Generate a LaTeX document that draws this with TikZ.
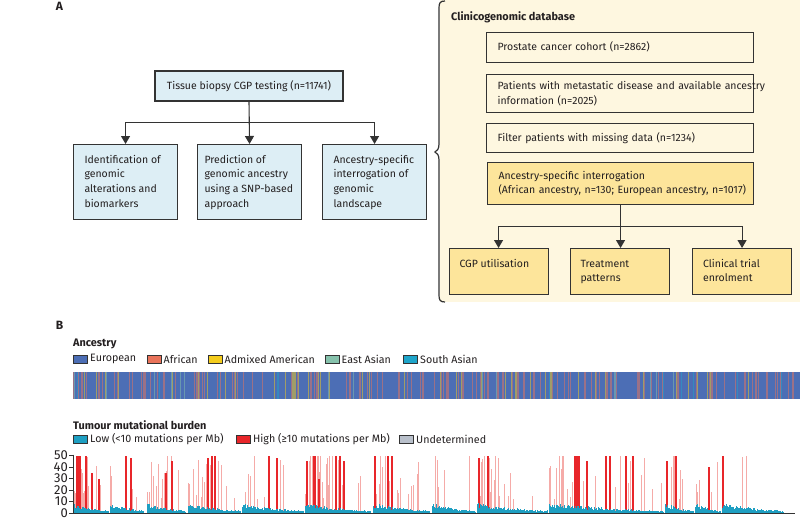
\documentclass[tikz,border=0pt]{standalone}
\usepackage{fontspec}
\setmainfont{Fira Sans}
\usetikzlibrary{arrows.meta,calc}
\definecolor{bluebox}{HTML}{DDEEF5}
\definecolor{cream}{HTML}{FEF7E0}
\definecolor{gold}{HTML}{FDE59B}
\definecolor{edge}{HTML}{333333}
\definecolor{ink}{HTML}{231F20}
\definecolor{eur}{HTML}{4C6EB5}
\definecolor{afr}{HTML}{E9735A}
\definecolor{amr}{HTML}{F4CC1C}
\definecolor{eas}{HTML}{86C2AC}
\definecolor{sas}{HTML}{1EA5CA}
\definecolor{tlow}{HTML}{1E9FC2}
\definecolor{thigh}{HTML}{E8262A}
\definecolor{tpink}{HTML}{F5ABA8}
\definecolor{tund}{HTML}{B9C0CB}
\newcommand{\tbx}[3]{\parbox[t][#2][t]{#1}{\raggedright\strut #3}}
\begin{document}
\begin{tikzpicture}[x=1pt,y=-1pt,
  font=\fontsize{10.5}{14.7}\selectfont, text=ink,
  lbox/.style={draw=edge, line width=1.1pt, fill=bluebox, anchor=north west, inner xsep=11pt, inner ysep=8.4pt},
  ybox/.style={draw=edge, line width=1.1pt, fill=gold, anchor=north west, inner xsep=10.5pt, inner ysep=8.4pt},
  rbox/.style={draw=edge, line width=1.1pt, anchor=north west, minimum width=267pt, text width=245pt, inner xsep=11pt, inner ysep=0pt, align=left},
  arr/.style={draw=edge, line width=1.1pt, -{Triangle[width=9pt,length=8pt]}},
  ttl/.style={font=\fontsize{10.9}{13}\selectfont\bfseries, anchor=west, inner sep=0pt},
  panel/.style={font=\fontsize{12}{14}\selectfont\bfseries, inner sep=0pt},
  swatch/.style={draw=edge, line width=0.7pt, minimum width=14pt, minimum height=8pt, inner sep=0pt, anchor=west},
  lgd/.style={font=\fontsize{10.7}{12}\selectfont, anchor=west, inner sep=0pt},
  ylab/.style={font=\fontsize{13}{14}\selectfont, anchor=east, inner sep=0pt}
]
\useasboundingbox (0,0) rectangle (800,530);

% ---------- Panel A ----------
\node[panel] (pa) at (59.5,6) {A};

\node[draw=edge, line width=1.1pt, fill=bluebox, minimum width=188pt, minimum height=30pt, inner sep=0pt] (top) at (249,86) {Tissue biopsy CGP testing (n=11741)};

\node[lbox] (c1) at (73,144) {\tbx{82pt}{58.2pt}{Identification of\\ genomic\\ alterations and\\ biomarkers}};
\node[lbox, inner xsep=7pt] (c2) at (197,144) {\tbx{90pt}{58.2pt}{Prediction of\\ genomic ancestry\\ using a SNP-based\\ approach}};
\node[lbox] (c3) at (322,144) {\tbx{82pt}{58.2pt}{Ancestry-specific\\ interrogation of\\ genomic\\ landscape}};

\coordinate (ja) at ($(top.south)!0.5!(c2.north)$);
\draw[arr] (top.south) -- (c2.north);
\draw[arr] (ja) -| (c1.north);
\draw[arr] (ja) -| (c3.north);

% right panel background and brace
\fill[cream] (440,0) rectangle (800,302);
\draw[edge, line width=1.2pt] (445,1) .. controls (440,1) and (439,3) .. (439,8) -- (439,144)
  .. controls (439,149) and (437,151) .. (435,152) .. controls (437,153) and (439,155) .. (439,160)
  -- (439,295) .. controls (439,300) and (440,302) .. (445,302);

\node[ttl] (cdb) at (451,17.5) {Clinicogenomic database};

\node[rbox, minimum height=29.5pt] (d1) at (486,32) {Prostate cancer cohort (n=2862)};
\node[rbox, minimum height=38pt] (d2) at (486,74) {\mbox{Patients with metastatic disease and available ancestry}\\ information (n=2025)};
\node[rbox, minimum height=29.3pt] (d3) at (486,122.7) {Filter patients with missing data (n=1234)};
\node[rbox, fill=gold, minimum height=42pt, minimum width=266pt, text width=244pt] (d4) at (487,162) {Ancestry-specific interrogation\\ \mbox{(African ancestry, n=130; European ancestry, n=1017)}};

\node[ybox] (e1) at (448.5,248) {\tbx{78pt}{29.2pt}{CGP utilisation}};
\node[ybox] (e2) at (569.5,248) {\tbx{78pt}{29.2pt}{Treatment\\ patterns}};
\node[ybox] (e3) at (692,248) {\tbx{78pt}{29.2pt}{Clinical trial\\ enrolment}};

\coordinate (jb) at ($(d4.south)!0.5!(d4.south |- e2.north)$);
\draw[arr] (d4.south) -- (d4.south |- e2.north);
\draw[arr] (jb) -| (e1.north);
\draw[arr] (jb) -| (e3.north);

% ---------- Panel B ----------
\node[panel] (pb) at (59.5,325.5) {B};
\node[ttl] (anc) at (73,344) {Ancestry};

\node[swatch, fill=eur] (s1) at (73,359) {};
\node[lgd] (l1) at (90,359) {European};
\node[swatch, fill=afr] (s2) at (147,359) {};
\node[lgd] (l2) at (163.5,359) {African};
\node[swatch, fill=amr] (s3) at (208,359) {};
\node[lgd] (l3) at (224.5,359) {Admixed American};
\node[swatch, fill=eas] (s4) at (325,359) {};
\node[lgd] (l4) at (341.5,359) {East Asian};
\node[swatch, fill=sas] (s5) at (403,359) {};
\node[lgd] (l5) at (420,359) {South Asian};

% ancestry stripe bar
\fill[eur] (73,372) rectangle (800,399);
\pgfmathsetseed{11}
\foreach \i in {1,...,230}{
  \pgfmathsetmacro\sx{73+726*rnd}
  \pgfmathsetmacro\cr{rnd}
  \pgfmathsetmacro\cc{int(\cr<0.6 ? 0 : (\cr<0.8 ? 1 : (\cr<0.92 ? 2 : 3)))}
  \ifcase\cc \def\scol{afr}\or\def\scol{amr}\or\def\scol{eas}\or\def\scol{sas}\fi
  \fill[fill=\scol!50!eur] (\sx,372) rectangle ++(1.1,27);
}

\node[ttl] (tmb) at (73,425) {Tumour mutational burden};
\node[swatch, fill=tlow] (t1) at (73,439) {};
\node[lgd] (m1) at (90,439) {Low (<10 mutations per Mb)};
\node[swatch, fill=thigh] (t2) at (236,439) {};
\node[lgd] (m2) at (253,439) {High (≥10 mutations per Mb)};
\node[swatch, fill=tund] (t3) at (399,439) {};
\node[lgd] (m3) at (416,439) {Undetermined};

% TMB: light (pink) high-TMB spikes, random
\pgfmathsetseed{7}
\foreach \xa/\xb/\pr in {73/108/0.45, 110/143/0.12, 147/185/0.25, 188/240/0.35, 242/303/0.22, 305/370/0.4, 373/429/0.28, 432/475/0.15, 477/547/0.25, 549/663/0.3, 665/693/0.3, 695/720/0.35, 722/783/0.03}{
  \foreach \x in {\xa,...,\xb}{
    \pgfmathsetmacro\tt{(\x-\xa)/(\xb-\xa)}
    \pgfmathsetmacro\om{max(1-\tt,0.001)}
    \pgfmathsetmacro\rr{rnd}
    \pgfmathsetmacro\isred{\rr<\pr*(0.3+\om) ? 1 : 0}
    \ifdim\isred pt>0.5pt
      \pgfmathsetmacro\hr{min(50,12+45*rnd)}
      \fill[fill=tpink] (\x-0.2,513) rectangle (\x+1.2,513-1.15*\hr);
    \fi
  }
}
% TMB: saturated high-TMB spikes
\foreach \sx/\sh/\sw in {76/50/5, 85/50/1.6, 91/35/1.6, 98/30/1.6, 125/50/1.6, 130/48/1.6, 165/35/1.6, 171/45/1.6, 207/48/2, 210.5/50/2, 214/50/2, 268/50/1.6, 276/48/1.6, 306/45/1.6, 313/50/3, 318/30/1.6, 335/50/1.6, 339/50/1.6, 343/45/1.6, 374/50/1.6, 387/50/1.6, 391/50/1.6, 478/48/2, 487/50/1.6, 574/50/6, 586/45/1.6, 605/50/1.6, 609/50/1.6, 625/50/1.6, 632/50/1.6, 666/45/2, 675/50/1.6, 708/40/1.6, 722/50/1.6}{
  \fill[fill=thigh] (\sx,513) rectangle (\sx+\sw,513-1.15*\sh);
}
% TMB: low (blue) bars
\pgfmathsetseed{5}
\foreach \xa/\xb in {73/108, 110/143, 147/185, 188/240, 242/303, 305/370, 373/429, 432/475, 477/547, 549/663, 665/693, 695/720, 722/783}{
  \foreach \x in {\xa,...,\xb}{
    \pgfmathsetmacro\tt{(\x-\xa)/(\xb-\xa)}
    \pgfmathsetmacro\om{max(1-\tt,0.001)}
    \pgfmathsetmacro\hb{(2.2+6.5*\om*sqrt(\om))*(0.5+0.5*rnd)}
    \fill[fill=tlow] (\x,513) rectangle (\x+1,513-1.15*\hb);
  }
}

% axis
\draw[edge, line width=1pt] (73,454.5) -- (73,513) -- (795,513);
\foreach \v in {0,10,20,30,40,50}{
  \draw[edge, line width=1pt] (69,513-1.15*\v) -- (73,513-1.15*\v);
  \node[ylab] at (68,513-1.15*\v) {\v};
}
\end{tikzpicture}
\end{document}
